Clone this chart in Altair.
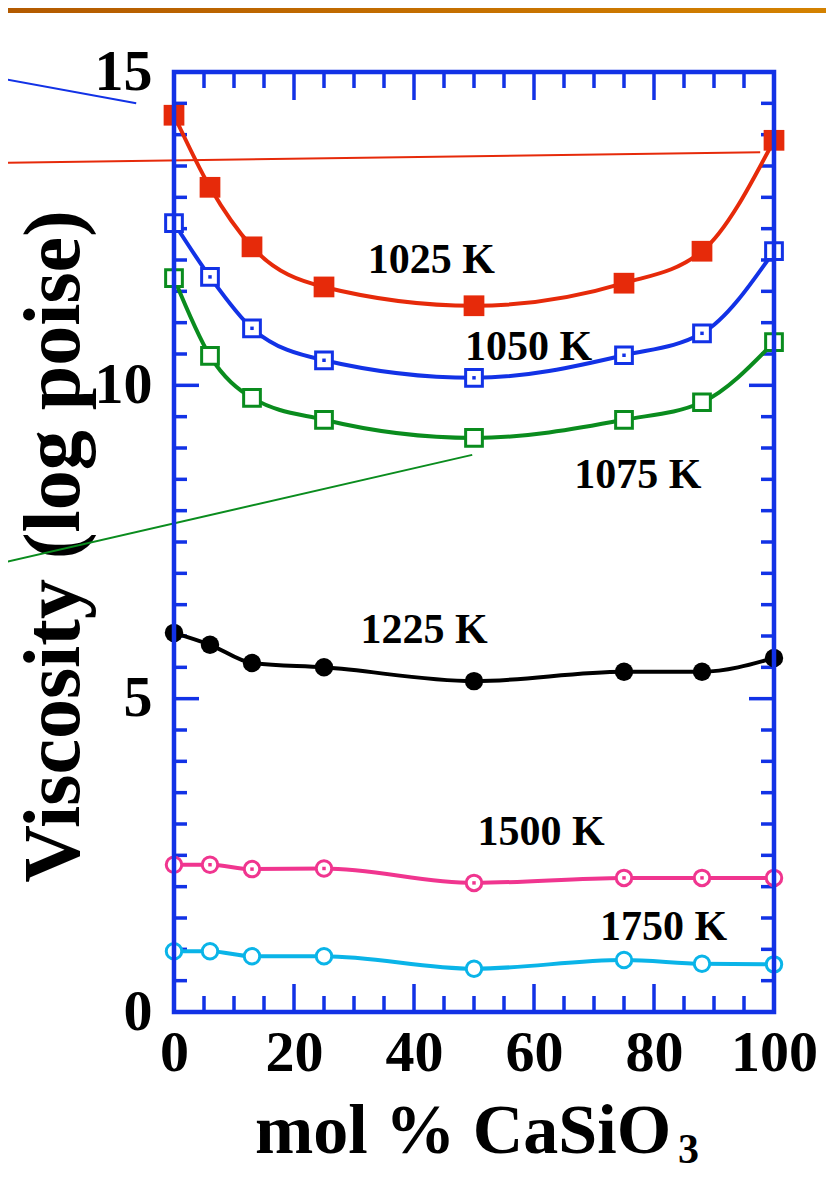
import altair as alt
import pandas as pd

# ---------------- data ----------------
x_mol = [0, 6, 13, 25, 50, 75, 88, 100]
v1025 = [14.31, 13.16, 12.21, 11.57, 11.27, 11.63, 12.14, 13.91]
v1050 = [12.59, 11.73, 10.91, 10.40, 10.12, 10.48, 10.83, 12.14]
v1075 = [11.71, 10.47, 9.80, 9.45, 9.16, 9.45, 9.73, 10.69]
v1225 = [6.05, 5.86, 5.57, 5.50, 5.28, 5.43, 5.43, 5.65]
v1500 = [2.35, 2.35, 2.28, 2.29, 2.06, 2.14, 2.14, 2.14]
v1750 = [0.97, 0.97, 0.89, 0.89, 0.69, 0.83, 0.77, 0.76]

series_names = ["1025 K", "1050 K", "1075 K", "1225 K", "1500 K", "1750 K"]
series_vals = [v1025, v1050, v1075, v1225, v1500, v1750]
series_colors = ["#E62A0A", "#1232E6", "#0A8C1E", "#000000", "#F0358F", "#0AB4E8"]
series_shapes = ["square", "square", "square", "circle", "circle", "circle"]
series_filled = [True, False, False, True, False, False]
series_dot = [False, True, False, False, True, False]

label_x = [42.9, 59.1, 77.3, 41.7, 61.2, 81.6]
label_y = [11.79, 10.40, 8.36, 5.89, 2.66, 1.15]

# stray annotation lines (data coordinates)
blue_x, blue_y = [-29, -6.3], [14.90, 14.50]
red_x, red_y = [-29, 97.7], [13.55, 13.72]
green_x, green_y = [-29, 49.7], [7.16, 8.89]

x_major = [0, 20, 40, 60, 80, 100]
x_minor = [5, 10, 15, 25, 30, 35, 45, 50, 55, 65, 70, 75, 85, 90, 95]
y_major = [0, 5, 10, 15]
y_minor = [v / 2 for v in range(0, 31) if v % 10 != 0]

# ---------------- layout ----------------
W, H = 600, 940
FRAME = "#1232E6"
FONT = "Liberation Serif"

xs = alt.Scale(domain=[0, 100], nice=False, zero=False)
ys = alt.Scale(domain=[0, 15], nice=False, zero=False)

X_AXIS = alt.Axis(
    values=x_major, ticks=False, domain=False, grid=False, title=None,
    labelFont=FONT, labelFontWeight="bold", labelFontSize=58, labelColor="black",
    labelPadding=12, labelFlush=False, labelOverlap=False, labelBound=False)
Y_AXIS = alt.Axis(
    values=y_major, ticks=False, domain=False, grid=False,
    title="Viscosity (log poise)", titleFont=FONT, titleFontWeight="bold",
    titleFontSize=80, titleColor="black", titleAngle=270, titleX=-96, titleY=474,
    titleAlign="center", titleBaseline="alphabetic",
    labelFont=FONT, labelFontWeight="bold", labelFontSize=58, labelColor="black",
    labelPadding=22, labelFlush=False, labelOverlap=False, labelBound=False,
    labelBaseline="middle")


def X(field):
    return alt.X(field, scale=xs, axis=X_AXIS)


def Y(field):
    return alt.Y(field, scale=ys, axis=Y_AXIS)


one = pd.DataFrame({"k": [0]})
layers = []

# orange band at the top
layers.append(
    alt.Chart(one).mark_rect(
        fill={"gradient": "linear",
              "stops": [{"offset": 0, "color": "#B35A00"}, {"offset": 1, "color": "#D48200"}]}
    ).encode(x=alt.value(-166), x2=alt.value(660), y=alt.value(-64), y2=alt.value(-59))
)

# stray lines
for lx, ly, c in [(blue_x, blue_y, "#1232E6"), (red_x, red_y, "#E62A0A"),
                  (green_x, green_y, "#0A8C1E")]:
    d = pd.DataFrame({"x": lx, "y": ly, "o": [0, 1]})
    layers.append(
        alt.Chart(d).mark_line(color=c, strokeWidth=2, clip=False).encode(
            x=X("x:Q"), y=Y("y:Q"), order="o:Q")
    )


# ticks (inward, all four sides)
def tick_layer(vals, orient, length):
    d = pd.DataFrame({"p": vals})
    m = alt.Chart(d).mark_rule(color=FRAME, strokeWidth=3.5)
    if orient == "bottom":
        return m.encode(x=X("p:Q"), y=alt.value(H), y2=alt.value(H - length))
    if orient == "top":
        return m.encode(x=X("p:Q"), y=alt.value(0), y2=alt.value(length))
    if orient == "left":
        return m.encode(y=Y("p:Q"), x=alt.value(0), x2=alt.value(length))
    return m.encode(y=Y("p:Q"), x=alt.value(W), x2=alt.value(W - length))


for o in ["bottom", "top"]:
    layers.append(tick_layer(x_major, o, 28))
    layers.append(tick_layer(x_minor, o, 16))
for o in ["left", "right"]:
    layers.append(tick_layer(y_major, o, 25))
    layers.append(tick_layer(y_minor, o, 13))

# series
for name, vals, c, shp, fil, dot in zip(series_names, series_vals, series_colors,
                                          series_shapes, series_filled, series_dot):
    d = pd.DataFrame({"x": x_mol, "y": vals})
    enc = dict(x=X("x:Q"), y=Y("y:Q"))
    layers.append(alt.Chart(d).mark_line(interpolate="monotone", color=c, strokeWidth=4).encode(**enc))
    if fil:
        size = 430 if shp == "square" else 340
        layers.append(alt.Chart(d).mark_point(shape=shp, filled=True, color=c, size=size,
                                              opacity=1).encode(**enc))
    else:
        size = 280 if shp == "square" else 240
        layers.append(alt.Chart(d).mark_point(shape=shp, filled=True, fill="white", stroke=c,
                                              strokeWidth=3, size=size, opacity=1,
                                              fillOpacity=1).encode(**enc))
    if dot:
        layers.append(alt.Chart(d).mark_point(shape="square", filled=True, color=c, size=12,
                                              opacity=1).encode(**enc))

# series labels
lab_df = pd.DataFrame({"t": series_names, "x": label_x, "y": label_y})
layers.append(
    alt.Chart(lab_df).mark_text(font=FONT, fontWeight="bold", fontSize=42, color="black",
                                align="center", baseline="alphabetic").encode(
        x=X("x:Q"), y=Y("y:Q"), text="t:N")
)

# frame on top
layers.append(
    alt.Chart(one).mark_rect(filled=False, stroke=FRAME, strokeWidth=4.5).encode(
        x=alt.value(0), x2=alt.value(W), y=alt.value(0), y2=alt.value(H))
)

# x-axis title with subscript
layers.append(
    alt.Chart(one).mark_text(text="mol % CaSiO", font=FONT, fontWeight="bold", fontSize=70,
                             color="black", align="left", baseline="alphabetic").encode(
        x=alt.value(81), y=alt.value(1081))
)
layers.append(
    alt.Chart(one).mark_text(text="3", font=FONT, fontWeight="bold", fontSize=42,
                             color="black", align="left", baseline="alphabetic").encode(
        x=alt.value(504), y=alt.value(1091))
)

chart = alt.layer(*layers).properties(
    width=W, height=H,
    padding={"left": 166, "top": 64, "right": 52, "bottom": 160},
    autosize=alt.AutoSizeParams(type="none"),
    background="white",
).configure_view(stroke="transparent")

chart.save("out.html", embed_options={"renderer": "svg", "actions": False})
